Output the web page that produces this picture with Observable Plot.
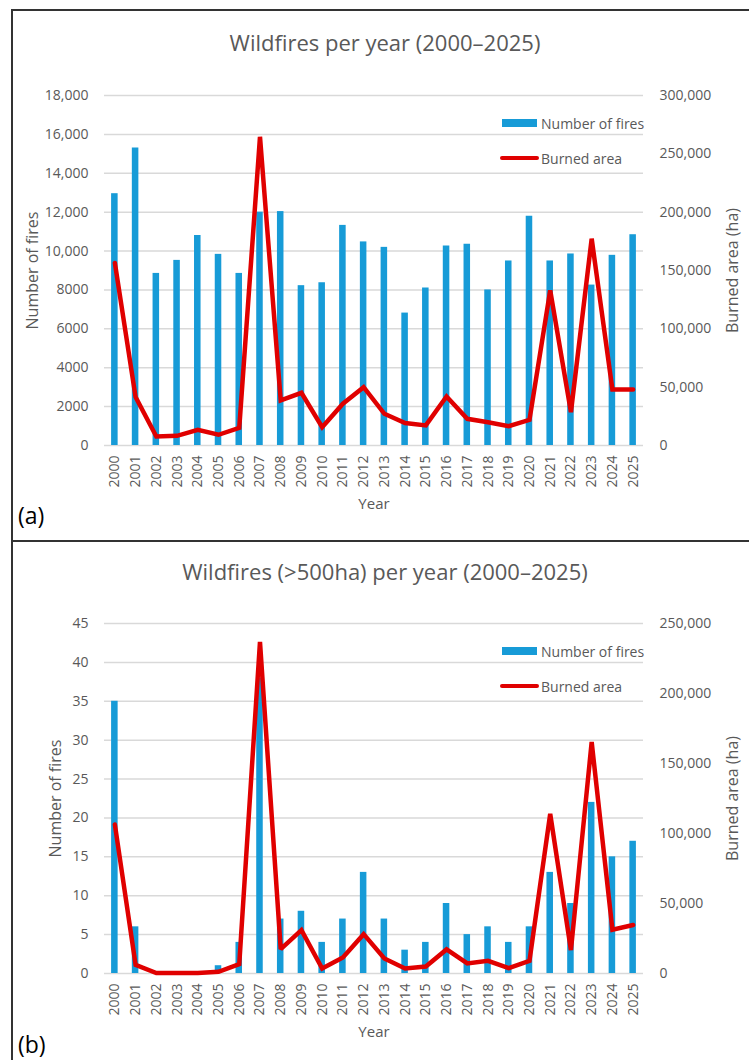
<!DOCTYPE html>
<html>
<head>
<meta charset="utf-8">
<script src="https://cdn.jsdelivr.net/npm/d3@7"></script>
<script src="https://cdn.jsdelivr.net/npm/@observablehq/plot@0.6"></script>
<style>
  html, body { margin: 0; padding: 0; background: #fff; }
  #wrap { position: relative; width: 749px; height: 1060px; overflow: hidden; background: #fff; font-family: "Open Sans", sans-serif; color: #595959; }
  .frame { position: absolute; left: 11px; top: 9px; width: 900px; height: 1200px; border-left: 2px solid #333; border-top: 2px solid #333; box-sizing: border-box; }
  .divider { position: absolute; left: 11px; top: 540px; width: 900px; height: 0; border-top: 2px solid #333; }
  .title { position: absolute; left: 0; width: 770px; text-align: center; font-size: 22px; line-height: 1; color: #595959; white-space: nowrap; }
  .tag { position: absolute; left: 18px; font-size: 23px; line-height: 1; color: #000; }
  .chart { position: absolute; left: 0; }
  .legend { position: absolute; left: 500px; font-size: 14px; color: #595959; }
  .legend .row { position: absolute; left: 0; display: flex; align-items: center; white-space: nowrap; height: 20px; }
  .sw-bar { width: 35px; height: 8px; background: #179bd7; margin-left: 2px; margin-right: 4px; }
  .sw-line { width: 39px; height: 4px; background: #e00000; border-radius: 2px; margin-right: 2px; }
</style>
</head>
<body>
<div id="wrap">
  <div class="frame"></div>
  <div class="divider"></div>
  <div class="title" style="top:31px">Wildfires per year (2000–2025)</div>
  <div class="title" style="top:560px">Wildfires (&gt;500ha) per year (2000–2025)</div>
  <div class="chart" id="chartA" style="top:0px"></div>
  <div class="chart" id="chartB" style="top:541px"></div>
  <div class="legend" style="top:113px">
    <div class="row" style="top:0px"><div class="sw-bar"></div><span>Number of fires</span></div>
    <div class="row" style="top:35px"><div class="sw-line"></div><span>Burned area</span></div>
  </div>
  <div class="legend" style="top:641px">
    <div class="row" style="top:0px"><div class="sw-bar"></div><span>Number of fires</span></div>
    <div class="row" style="top:35px"><div class="sw-line"></div><span>Burned area</span></div>
  </div>
  <div class="tag" style="top:504px">(a)</div>
  <div class="tag" style="top:1033px">(b)</div>
</div>
<script>
// ---- data ----
const years = ["2000","2001","2002","2003","2004","2005","2006","2007","2008","2009","2010","2011","2012",
               "2013","2014","2015","2016","2017","2018","2019","2020","2021","2022","2023","2024","2025"];

// Panel (a): all wildfires
const firesAll = [12950, 15300, 8850, 9520, 10800, 9830, 8850, 12000, 12030, 8220, 8370, 11320, 10470,
                  10190, 6810, 8100, 10260, 10350, 8000, 9490, 11790, 9490, 9850, 8250, 9780, 10840];
const areaAll = [156500, 41500, 7700, 8300, 13400, 9200, 15200, 264600, 38600, 45200, 15700, 35800, 50000,
                 27200, 19200, 17200, 42000, 22900, 20000, 16600, 22000, 133000, 28600, 177300, 48000, 48000];

// Panel (b): wildfires > 500 ha
const firesLarge = [35, 6, 0, 0, 0, 1, 4, 38, 7, 8, 4, 7, 13,
                    7, 3, 4, 9, 5, 6, 4, 6, 13, 9, 22, 15, 17];
const areaLarge = [106400, 6200, 300, 300, 300, 1200, 6700, 236900, 17400, 31000, 3600, 11500, 28100,
                   10700, 3600, 5000, 17200, 7200, 9100, 3800, 9100, 114000, 16700, 165300, 31300, 34600];

// Axis ticks
const leftTicksA = [0, 2000, 4000, 6000, 8000, 10000, 12000, 14000, 16000, 18000];
const rightTicksA = [0, 50000, 100000, 150000, 200000, 250000, 300000];
const leftTicksB = [0, 5, 10, 15, 20, 25, 30, 35, 40, 45];
const rightTicksB = [0, 50000, 100000, 150000, 200000, 250000];

const BAR = "#179bd7", LINE = "#e00000", GRID = "#d9d9d9", TEXT = "#595959";
const comma = d3.format(",");

function panel({fires, area, leftTicks, rightTicks, height, marginTop, marginBottom, leftFmt, leftLabelOffset}) {
  const leftMax = leftTicks[leftTicks.length - 1];
  const rightMax = rightTicks[rightTicks.length - 1];
  const k = leftMax / rightMax;
  const data = years.map((y, i) => ({year: y, fires: fires[i], area: area[i]}));
  return Plot.plot({
    width: 749,
    height,
    marginLeft: 104,
    marginRight: 106,
    marginTop,
    marginBottom,
    style: {fontFamily: "'Open Sans', sans-serif", fontSize: "14px", color: TEXT, background: "transparent", overflow: "visible"},
    x: {type: "band", domain: years, padding: 0, round: false, label: null},
    y: {domain: [0, leftMax], label: null},
    marks: [
      Plot.gridY(leftTicks, {stroke: GRID, strokeOpacity: 1, strokeWidth: 1.5}),
      Plot.axisY(leftTicks, {anchor: "left", tickSize: 0, tickPadding: 16, tickFormat: leftFmt, label: null, fontSize: 14}),
      Plot.axisY(rightTicks.map(v => v * k), {anchor: "right", tickSize: 0, tickPadding: 16,
        tickFormat: d => comma(Math.round(d / k)), label: null, fontSize: 14}),
      Plot.axisX({tickRotate: -90, tickSize: 0, tickPadding: 10, label: null, fontSize: 14}),
      Plot.text(["Number of fires"], {frameAnchor: "left", dx: -leftLabelOffset, rotate: -90, fontSize: 16, fill: TEXT, textAnchor: "middle"}),
      Plot.text(["Burned area (ha)"], {frameAnchor: "right", dx: 89, rotate: -90, fontSize: 16, fill: TEXT, textAnchor: "middle"}),
      Plot.text(["Year"], {frameAnchor: "bottom", dy: 63, fontSize: 15, fill: TEXT, textAnchor: "middle"}),
      Plot.barY(data, {x: "year", y: "fires", fill: BAR, insetLeft: 7.1, insetRight: 7.1}),
      Plot.lineY(data, {x: "year", y: d => d.area * k, stroke: LINE, strokeWidth: 4.5, strokeLinejoin: "miter", strokeMiterlimit: 2})
    ]
  });
}

document.getElementById("chartA").append(panel({
  fires: firesAll, area: areaAll, leftTicks: leftTicksA, rightTicks: rightTicksA,
  height: 541, marginTop: 95, marginBottom: 96,
  leftFmt: d => d >= 10000 ? comma(d) : String(d), leftLabelOffset: 72
}));
document.getElementById("chartB").append(panel({
  fires: firesLarge, area: areaLarge, leftTicks: leftTicksB, rightTicks: rightTicksB,
  height: 519, marginTop: 82, marginBottom: 87,
  leftFmt: d => String(d), leftLabelOffset: 49
}));
</script>
</body>
</html>
